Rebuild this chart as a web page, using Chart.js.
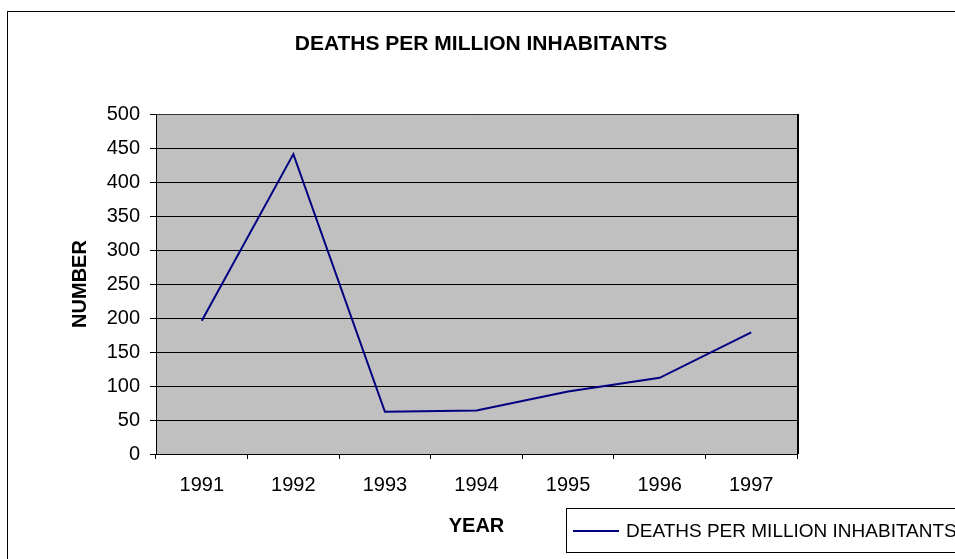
<!DOCTYPE html>
<html>
<head>
<meta charset="utf-8">
<script src="https://cdn.jsdelivr.net/npm/chart.js@4"></script>
<style>
  html, body { margin: 0; padding: 0; background: #fff; }
  #wrap { width: 955px; height: 559px; }
</style>
</head>
<body>
<div id="wrap"><canvas id="c" width="955" height="559"></canvas></div>
<script>
const categories = ['1991', '1992', '1993', '1994', '1995', '1996', '1997'];
const deathsPerMillion = [196, 441, 62, 64, 92, 112, 179];
const seriesLabel = 'DEATHS PER MILLION INHABITANTS';
const chartTitle = 'DEATHS PER MILLION INHABITANTS';
const xTitle = 'YEAR';
const yTitle = 'NUMBER';
const yMin = 0, yMax = 500, yStep = 50;

const FONT = '"Liberation Sans", Arial, sans-serif';

const decorPlugin = {
  id: 'decor',
  beforeDraw(chart) {
    const ctx = chart.ctx;
    const a = chart.chartArea;
    ctx.save();
    ctx.fillStyle = '#fff';
    ctx.fillRect(0, 0, chart.width, chart.height);
    ctx.strokeStyle = '#000';
    ctx.lineWidth = 1;
    ctx.strokeRect(7.5, 11.5, 2000, 2000);
    ctx.fillStyle = '#c0c0c0';
    ctx.fillRect(a.left, a.top, a.right - a.left, a.bottom - a.top);
    ctx.restore();
  },
  afterDatasetsDraw(chart) {
    const ctx = chart.ctx;
    const a = chart.chartArea;
    ctx.save();
    ctx.strokeStyle = '#333';
    ctx.lineWidth = 1;
    ctx.beginPath();
    ctx.moveTo(a.left, a.top + 0.5);
    ctx.lineTo(a.right + 0.5, a.top + 0.5);
    ctx.stroke();
    ctx.strokeStyle = '#000';
    ctx.lineWidth = 2;
    ctx.beginPath();
    ctx.moveTo(a.right + 1, a.top);
    ctx.lineTo(a.right + 1, a.bottom);
    ctx.stroke();
    ctx.restore();
  },
  afterDraw(chart) {
    const ctx = chart.ctx;
    const ds = chart.data.datasets[0];
    ctx.save();
    ctx.fillStyle = '#fff';
    ctx.fillRect(566.5, 508.5, 500, 44);
    ctx.strokeStyle = '#000';
    ctx.lineWidth = 1;
    ctx.strokeRect(566.5, 508.5, 500, 44);
    ctx.strokeStyle = ds.borderColor;
    ctx.lineWidth = 2;
    ctx.beginPath();
    ctx.moveTo(573, 531);
    ctx.lineTo(619, 531);
    ctx.stroke();
    ctx.fillStyle = '#000';
    ctx.font = '19px ' + FONT;
    ctx.textBaseline = 'middle';
    ctx.textAlign = 'left';
    ctx.fillText(ds.label, 626, 532);
    ctx.restore();
  }
};

new Chart(document.getElementById('c'), {
  type: 'line',
  data: {
    labels: categories,
    datasets: [{
      label: seriesLabel,
      data: deathsPerMillion,
      borderColor: '#000080',
      backgroundColor: '#000080',
      borderWidth: 2,
      pointRadius: 0,
      tension: 0,
      fill: false
    }]
  },
  options: {
    responsive: false,
    animation: false,
    devicePixelRatio: 1,
    layout: { padding: { left: 7, right: 0, top: 0, bottom: 0 } },
    plugins: {
      legend: { display: false },
      tooltip: { enabled: false },
      title: {
        display: true,
        text: chartTitle,
        color: '#000',
        font: { family: FONT, size: 21, weight: 'bold' },
        padding: { top: 32, bottom: 56.8 }
      }
    },
    scales: {
      x: {
        type: 'category',
        offset: true,
        grid: {
          display: true,
          offset: true,
          drawOnChartArea: false,
          drawTicks: true,
          tickLength: 5,
          color: '#000',
          tickColor: '#000'
        },
        border: { display: true, color: '#000', width: 1 },
        ticks: {
          color: '#000',
          font: { family: FONT, size: 20 },
          padding: 14,
          maxRotation: 0,
          autoSkip: false
        },
        title: {
          display: true,
          text: xTitle,
          color: '#000',
          font: { family: FONT, size: 20, weight: 'bold' },
          padding: { top: 0, bottom: 21 }
        },
        afterFit(s) { s.height = 105; }
      },
      y: {
        type: 'linear',
        position: 'left',
        min: yMin,
        max: yMax,
        grid: {
          color: '#000',
          lineWidth: 1,
          drawTicks: true,
          tickLength: 6,
          tickColor: '#000'
        },
        border: { display: true, color: '#000', width: 1 },
        ticks: {
          stepSize: yStep,
          color: '#000',
          font: { family: FONT, size: 20 },
          padding: 10
        },
        title: {
          display: true,
          text: yTitle,
          color: '#000',
          font: { family: FONT, size: 20, weight: 'bold' },
          padding: { top: 61, bottom: 0 }
        },
        afterFit(s) { s.width = 149; }
      },
      yR: {
        type: 'linear',
        position: 'right',
        display: true,
        grid: { display: false, drawTicks: false },
        border: { display: false },
        ticks: { display: false },
        afterFit(s) { s.width = 158; }
      }
    }
  },
  plugins: [decorPlugin]
});
</script>
</body>
</html>
